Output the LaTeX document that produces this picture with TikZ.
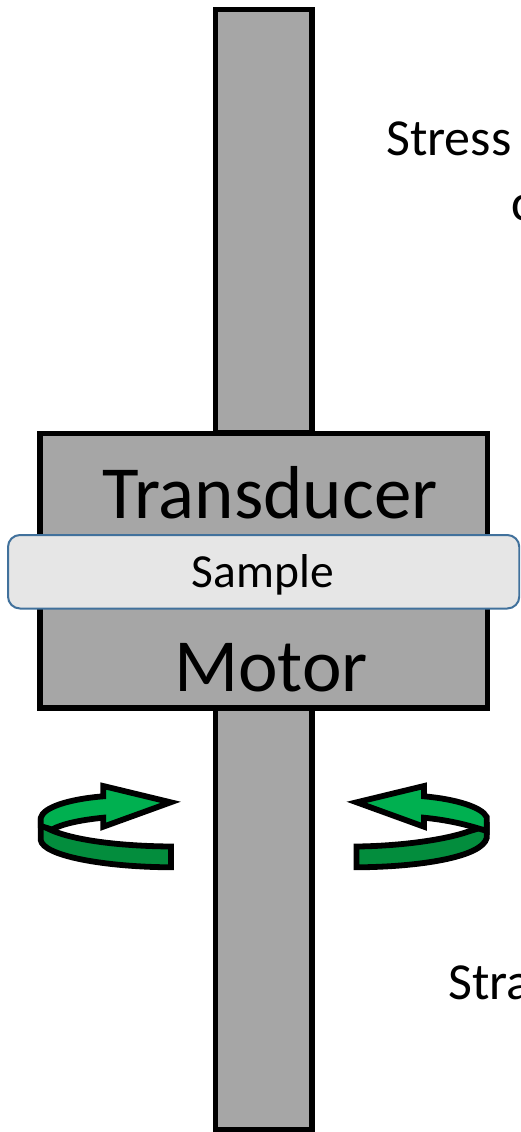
\documentclass[tikz,border=0pt]{standalone}
\usepackage{fontspec}
\setmainfont{Carlito}
\definecolor{barg}{HTML}{A6A6A6}
\definecolor{sampfill}{HTML}{E6E6E6}
\definecolor{sampline}{HTML}{41719C}
\definecolor{greenup}{HTML}{00B050}
\definecolor{greenlow}{HTML}{038D3D}
\tikzset{
  solid part/.style={draw=black,fill=barg,line width=5.4pt,miter limit=10},
  sample part/.style={draw=sampline,fill=sampfill,line width=2pt,rounded corners=12pt},
  rib top/.style={draw=black,fill=greenup,line width=5.8pt,line join=miter,miter limit=10},
  rib low/.style={draw=black,fill=greenlow,line width=5.8pt,line join=miter,miter limit=10},
  big label/.style={inner sep=0pt,anchor=base,font=\fontsize{75}{75}\selectfont},
  side label/.style={inner sep=0pt,anchor=base west,font=\fontsize{52}{52}\selectfont},
  samp label/.style={inner sep=0pt,anchor=base,font=\fontsize{47.5}{47.5}\selectfont},
}
\begin{document}
\begin{tikzpicture}[x=1pt,y=-1pt]
\useasboundingbox (0,0) rectangle (520,1132);
\clip (0,0) rectangle (520,1132);
% bars and body
\draw[solid part] (215.7,9.5) rectangle (312,433);
\draw[solid part] (215.7,708) rectangle (312,1129.5);
\draw[solid part] (40,433.5) rectangle (487.5,708);
\draw[sample part] (8,535) rectangle (519.3,608.5);
\node[big label] (transducer) at (270,518) {Transducer};
\node[big label] (motor) at (271,691.7) {Motor};
\node[samp label] (sample) at (263,587.7) {Sample};
% left arrow
\draw[rib low] (40.7,824) -- (40.7,840)
  .. controls (43,856) and (105,867) .. (171,867.3)
  -- (171,846.5)
  .. controls (110,846) and (58,838) .. (40.7,824) -- cycle;
\draw[rib top] (40.7,826) -- (40.7,818)
  .. controls (43,807) and (70,799) .. (103.3,796.3)
  -- (103.3,786) -- (170.7,802.3) -- (103.3,826.7) -- (103.3,817.7)
  .. controls (80,820) and (62,824) .. (52,829.5)
  -- cycle;
% right arrow
\draw[rib low] (486.7,826) -- (486.7,838)
  .. controls (482,857) and (420,867) .. (356.4,867.3)
  -- (356.4,846.5)
  .. controls (400,846) and (445,840) .. (470,831)
  -- cycle;
\draw[rib top] (486.7,831) -- (486.7,817)
  .. controls (482,807) and (455,799) .. (424,796.3)
  -- (424,786) -- (356.7,802.3) -- (424,826.7) -- (424,817.7)
  .. controls (447,820) and (465,824) .. (486.7,831) -- cycle;
% clipped side labels
\node[side label] (stress) at (386,155) {Stress};
\node[side label] (stressb) at (511,220) {c};
\node[side label] (strain) at (448,999) {Stra};
\end{tikzpicture}
\end{document}
